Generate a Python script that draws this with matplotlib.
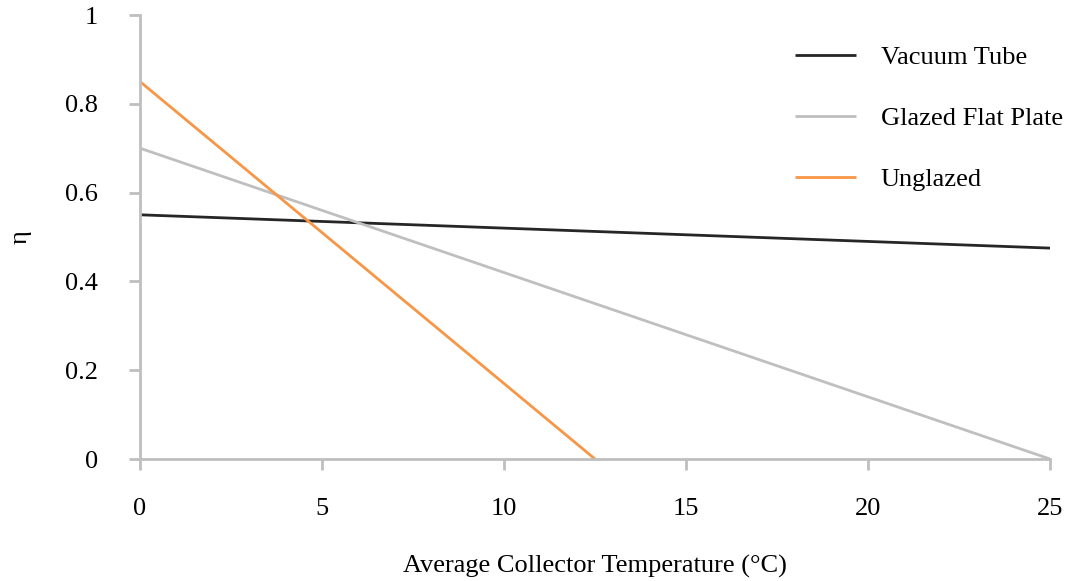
import matplotlib.pyplot as plt

plt.rcParams['font.family'] = ['Liberation Serif', 'DejaVu Serif']

# collector efficiency lines (start / end points)
temp_vacuum = [0, 25]
eta_vacuum = [0.55, 0.475]
temp_glazed = [0, 25]
eta_glazed = [0.70, 0.0]
temp_unglazed = [0, 12.5]
eta_unglazed = [0.85, 0.0]

x_ticks = [0, 5, 10, 15, 20, 25]
y_ticks = [0, 0.2, 0.4, 0.6, 0.8, 1]
y_tick_labels = ['0', '0.2', '0.4', '0.6', '0.8', '1']

axis_grey = '#bfbfbf'
fs = 19

fig = plt.figure(figsize=(10.79, 5.81), dpi=100)
ax = fig.add_axes([140 / 1079, 1 - 459 / 581, 910 / 1079, 444 / 581])

ax.plot(temp_vacuum, eta_vacuum, color='#262626', lw=2.0, label='Vacuum Tube', solid_capstyle='butt')
ax.plot(temp_glazed, eta_glazed, color=axis_grey, lw=2.0, label='Glazed Flat Plate', solid_capstyle='butt')
ax.plot(temp_unglazed, eta_unglazed, color='#f79646', lw=2.0, label='Unglazed', solid_capstyle='butt')

ax.set_xlim(0, 25)
ax.set_ylim(0, 1)
ax.set_xticks(x_ticks)
ax.set_xticklabels([str(t) for t in x_ticks])
ax.set_yticks(y_ticks)
ax.set_yticklabels(y_tick_labels)

for side in ['top', 'right']:
    ax.spines[side].set_visible(False)
for side in ['left', 'bottom']:
    ax.spines[side].set_color(axis_grey)
    ax.spines[side].set_linewidth(2.0)

ax.tick_params(axis='both', colors=axis_grey, width=2.0, length=8, labelcolor='black', labelsize=fs)
ax.tick_params(axis='x', pad=20)
ax.tick_params(axis='y', pad=22)

ax.set_xlabel('Average Collector Temperature (°C)', fontsize=fs, labelpad=25)
ax.set_ylabel('η', fontsize=fs, labelpad=24, rotation=90)

ax.legend(loc='upper left', bbox_to_anchor=((795 - 140) / 910, (459 - 46) / 444), frameon=False,
          fontsize=fs, borderpad=0, borderaxespad=0,
          handlelength=2.3, handletextpad=0.95, labelspacing=1.42)

fig.savefig('out.png', dpi=100)
